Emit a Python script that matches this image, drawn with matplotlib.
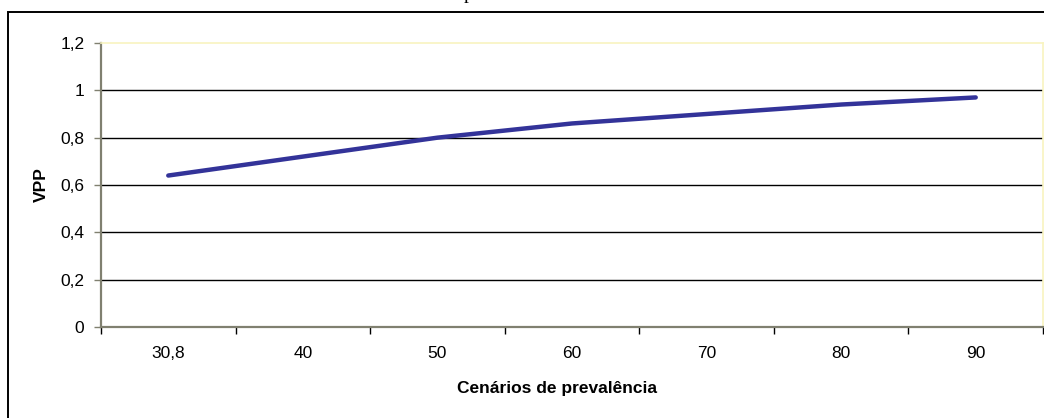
import matplotlib.pyplot as plt
from matplotlib.patches import Rectangle

# Prevalence scenarios and the positive predictive value (VPP) for each
cenarios = ['30,8', '40', '50', '60', '70', '80', '90']
vpp = [0.64, 0.72, 0.80, 0.86, 0.90, 0.94, 0.97]
yticks = [0, 0.2, 0.4, 0.6, 0.8, 1.0, 1.2]
ytick_labels = ['0', '0,2', '0,4', '0,6', '0,8', '1', '1,2']

plt.rcParams['font.family'] = ['Liberation Sans', 'DejaVu Sans']

fig = plt.figure(figsize=(10.44, 4.18), dpi=100)
ax = fig.add_axes([101 / 1044, 1 - 327 / 418, 942 / 1044, 284 / 418])

x = list(range(len(cenarios)))
ax.plot(x, vpp, color='#333399', lw=3.2, solid_capstyle='round', zorder=3)

ax.set_xlim(-0.5, len(cenarios) - 0.5)
ax.set_ylim(0, 1.2)

# horizontal gridlines
for v in yticks[1:-1]:
    ax.axhline(v, color='#000000', lw=1.0, zorder=1)

ax.set_yticks(yticks)
ax.set_yticklabels(ytick_labels)
ax.set_xticks(x)
ax.set_xticklabels(cenarios)
ax.set_xticks([i - 0.5 for i in range(len(cenarios) + 1)], minor=True)

ax.tick_params(axis='x', which='major', length=0, pad=14, labelsize=12.5)
ax.tick_params(axis='x', which='minor', length=5, width=1, color='#000000',
               direction='out')
ax.tick_params(axis='y', length=5, width=1, color='#808070', pad=7,
               labelsize=12.5)

for side in ['left', 'bottom']:
    ax.spines[side].set_color('#808070')
    ax.spines[side].set_linewidth(1.6)
for side in ['top', 'right']:
    ax.spines[side].set_color('#f8f4c0')
    ax.spines[side].set_linewidth(1.2)

ax.set_ylabel('VPP', fontweight='bold', fontsize=12.5, labelpad=8)
ax.set_xlabel('Cenários de prevalência', fontweight='bold', fontsize=12.5)
ax.xaxis.set_label_coords(0.484, -0.19)

# outer chart frame
fig.patches.append(Rectangle((8 / 1044, -0.05), 1.2, 1 - 12 / 418 + 0.05,
                             transform=fig.transFigure, fill=False,
                             edgecolor='#000000', lw=1.4))

# title sits mostly above the canvas
fig.text(464 / 1044, 1.0015, 'prevalência', family='Liberation Serif',
         fontsize=14, ha='left', va='baseline')

fig.savefig('out.png', dpi=100)
